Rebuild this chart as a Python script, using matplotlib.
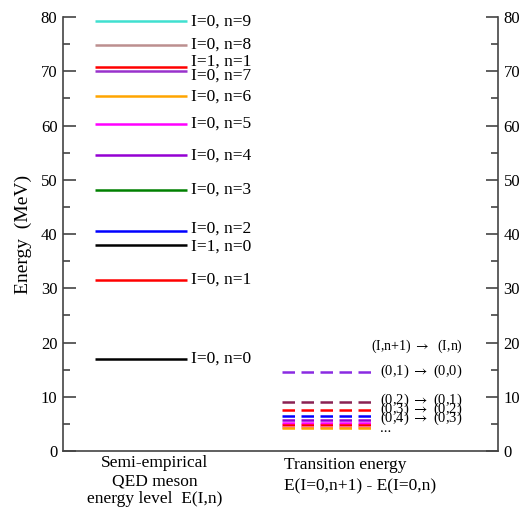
import matplotlib
matplotlib.use("Agg")
import matplotlib.pyplot as plt
from matplotlib.ticker import MultipleLocator

plt.rcParams['font.family'] = ['Liberation Serif', 'DejaVu Serif']
plt.rcParams['mathtext.fontset'] = 'stix'

# Energy levels E(I,n)
level_labels = ["I=0, n=0", "I=0, n=1", "I=1, n=0", "I=0, n=2", "I=0, n=3",
                "I=0, n=4", "I=0, n=5", "I=0, n=6", "I=0, n=7", "I=1, n=1",
                "I=0, n=8", "I=0, n=9"]
level_values = [17.0, 31.6, 38.0, 40.6, 48.1, 54.5, 60.3, 65.4, 70.1, 70.8, 74.9, 79.2]
level_colors = ["black", "red", "black", "blue", "green", "darkviolet", "magenta",
                "orange", "#9932cc", "red", "#bc8f8f", "turquoise"]
label_offsets = [0, 0, -0.4, 0.4, 0, 0, 0, 0, -0.9, 0.9, 0, 0]

# Transition energies E(I=0,n+1) - E(I=0,n)
trans_values = [14.6, 9.0, 7.6, 6.4, 5.8, 5.2, 4.8, 4.5, 4.2]
trans_colors = ["#8a2be2", "#8b2252", "red", "blue", "darkviolet", "magenta",
                "red", "#ff69b4", "orange"]
trans_labels = [r"(0,1) $\rightarrow$ (0,0)", r"(0,2) $\rightarrow$ (0,1)",
                r"(0,3) $\rightarrow$ (0,2)", r"(0,4) $\rightarrow$ (0,3)", "..."]
trans_label_y = [14.6, 9.3, 7.7, 6.1, 4.1]

fig = plt.figure(figsize=(5.32, 5.08), dpi=100)
ax = fig.add_axes([0.1184, 0.1122, 0.8177, 0.8543])
ax.set_xlim(0, 10)
ax.set_ylim(0, 80)

for v, c, lab, off in zip(level_values, level_colors, level_labels, label_offsets):
    ax.plot([0.74, 2.85], [v, v], color=c, lw=1.8, solid_capstyle='butt')
    ax.text(2.95, v + off, lab, fontsize=12.5, va='center', ha='left')

for v, c in zip(trans_values, trans_colors):
    ax.plot([5.03, 7.17], [v, v], color=c, lw=1.8, dashes=(5, 2.6))

ax.text(7.08, 19.3, r"(I,n+1) $\rightarrow$  (I,n)", fontsize=10, va='center', ha='left')
for lab, y in zip(trans_labels, trans_label_y):
    ax.text(7.28, y, lab, fontsize=10.5, va='center', ha='left')

spine_col = '#444444'
ax.spines['top'].set_visible(False)
for s in ['left', 'right', 'bottom']:
    ax.spines[s].set_color(spine_col)
    ax.spines[s].set_linewidth(1.2)

ax.set_xticks([])
ax.yaxis.set_major_locator(MultipleLocator(10))
ax.yaxis.set_minor_locator(MultipleLocator(5))
ax.tick_params(axis='y', which='both', direction='in', left=True, right=True,
               labelleft=True, labelright=True, color=spine_col, width=1.2,
               labelsize=12, pad=4)
ax.tick_params(axis='y', which='major', length=9)
ax.tick_params(axis='y', which='minor', length=5)
ax.set_ylabel("Energy  (MeV)", fontsize=14, labelpad=6)

fig.text(155/532, 1 - 463/508, "Semi-empirical", ha='center', va='center', fontsize=12.5)
fig.text(155/532, 1 - 481/508, "QED meson", ha='center', va='center', fontsize=12.5)
fig.text(155/532, 1 - 499/508, "energy level  E(I,n)", ha='center', va='center', fontsize=12.5)
fig.text(284/532, 1 - 465/508, "Transition energy", ha='left', va='center', fontsize=12.5)
fig.text(284/532, 1 - 486/508, "E(I=0,n+1) - E(I=0,n)", ha='left', va='center', fontsize=12.5)

fig.savefig("out.png", dpi=100)
